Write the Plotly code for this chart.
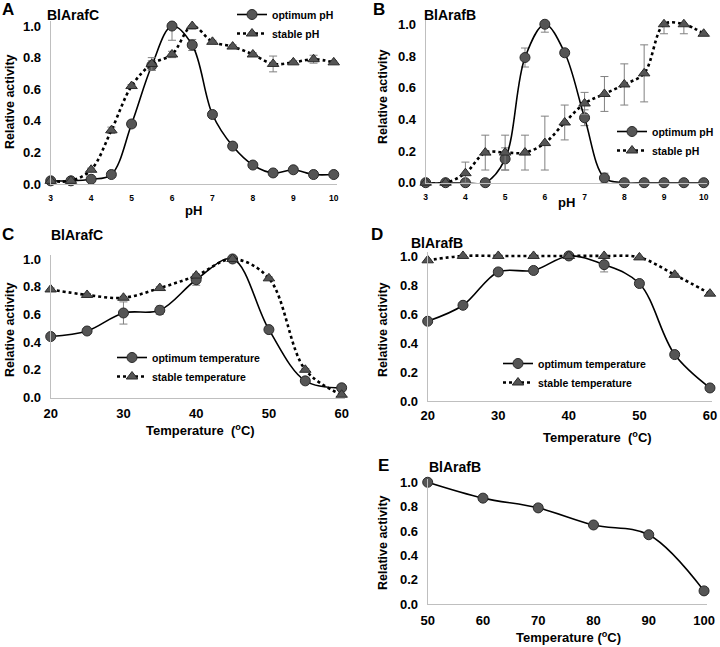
import plotly.graph_objects as go

# ---------------- data ----------------
ph = [3, 3.5, 4, 4.5, 5, 5.5, 6, 6.5, 7, 7.5, 8, 8.5, 9, 9.5, 10]
temp = [20, 25, 30, 35, 40, 45, 50, 55, 60]
temp_e = [50, 60, 70, 80, 90, 100]

a_opt = [0.02, 0.02, 0.03, 0.06, 0.38, 0.75, 1.00, 0.88, 0.44, 0.24, 0.12, 0.07, 0.09, 0.06, 0.06]
a_opt_err = [0.0, 0.0, 0.0, 0.0, 0.02, 0.03, 0.09, 0.035, 0.01, 0.0, 0.0, 0.0, 0.0, 0.0, 0.0]
a_stb = [0.02, 0.02, 0.09, 0.34, 0.62, 0.76, 0.82, 1.00, 0.90, 0.87, 0.82, 0.76, 0.77, 0.79, 0.77]
a_stb_err = [0.0, 0.0, 0.01, 0.02, 0.01, 0.04, 0.02, 0.02, 0.01, 0.01, 0.01, 0.05, 0.01, 0.025, 0.01]

b_opt = [0.0, 0.0, 0.0, 0.0, 0.15, 0.79, 1.00, 0.82, 0.41, 0.03, 0.0, 0.0, 0.0, 0.0, 0.0]
b_opt_err = [0.0, 0.0, 0.0, 0.0, 0.07, 0.06, 0.05, 0.02, 0.05, 0.03, 0.0, 0.0, 0.0, 0.0, 0.0]
b_stb = [0.0, 0.0, 0.06, 0.19, 0.19, 0.19, 0.25, 0.38, 0.50, 0.56, 0.62, 0.69, 1.00, 1.00, 0.94]
b_stb_err = [0.0, 0.0, 0.07, 0.11, 0.11, 0.11, 0.17, 0.11, 0.07, 0.11, 0.13, 0.18, 0.06, 0.06, 0.0]

c_opt = [0.44, 0.48, 0.61, 0.63, 0.85, 1.00, 0.49, 0.12, 0.07]
c_opt_err = [0.0, 0.02, 0.08, 0.03, 0.04, 0.0, 0.0, 0.0, 0.02]
c_stb = [0.78, 0.74, 0.72, 0.79, 0.88, 1.00, 0.86, 0.20, 0.02]
c_stb_err = [0.01, 0.01, 0.01, 0.01, 0.01, 0.01, 0.01, 0.01, 0.01]

d_opt = [0.55, 0.66, 0.89, 0.90, 1.00, 0.94, 0.81, 0.32, 0.09]
d_opt_err = [0.0, 0.0, 0.0, 0.0, 0.0, 0.05, 0.0, 0.02, 0.0]
d_stb = [0.97, 1.00, 1.00, 1.00, 1.00, 1.00, 0.99, 0.87, 0.74]
d_stb_err = [0.0, 0.0, 0.0, 0.0, 0.0, 0.0, 0.0, 0.01, 0.0]

e_opt = [1.00, 0.87, 0.79, 0.65, 0.57, 0.11]

ytick_vals = [0.0, 0.2, 0.4, 0.6, 0.8, 1.0]

# ---------------- style ----------------
FONT = "Arial, Liberation Sans, sans-serif"
W, H = 720, 647
MK_FILL = "#555555"
MK_LINE = "#2a2a2a"
ERR_C = "#808080"


def px(x0, x1):
    return [x0 / W, x1 / W]


def py(ytop, ybot):
    return [1 - ybot / H, 1 - ytop / H]


fig = go.Figure()


def up_err(vals, errs):
    return [min(e, max(0.0, 1.0 - v)) for v, e in zip(vals, errs)]


def dn_err(vals, errs):
    return [min(e, v) for v, e in zip(vals, errs)]


def add_series(x, y, err, ax, name, kind, legend, showlegend=True):
    if kind == "opt":
        line = dict(shape="spline", color="black", width=1.6)
        marker = dict(symbol="circle", size=10, color=MK_FILL, line=dict(color=MK_LINE, width=1))
    else:
        line = dict(shape="spline", color="black", width=2.6, dash="dot")
        marker = dict(symbol="triangle-up", size=10, color=MK_FILL, line=dict(color=MK_LINE, width=1))
    kw = {}
    if err is not None:
        kw["error_y"] = dict(type="data", symmetric=False, array=up_err(y, err),
                             arrayminus=dn_err(y, err), color=ERR_C, thickness=1, width=4)
    tr = dict(x=x, y=y, mode="lines+markers", name=name, line=line,
              marker=marker, xaxis="x" + ax, yaxis="y" + ax,
              showlegend=showlegend, cliponaxis=False, **kw)
    if legend:
        tr["legend"] = legend
    fig.add_trace(go.Scatter(**tr))


add_series(ph, a_opt, a_opt_err, "", "optimum pH", "opt", "legend")
add_series(ph, a_stb, a_stb_err, "", "stable pH", "stb", "legend")
add_series(ph, b_opt, b_opt_err, "2", "optimum pH", "opt", "legend2")
add_series(ph, b_stb, b_stb_err, "2", "stable pH", "stb", "legend2")
add_series(temp, c_opt, c_opt_err, "3", "optimum temperature", "opt", "legend3")
add_series(temp, c_stb, c_stb_err, "3", "stable temperature", "stb", "legend3")
add_series(temp, d_opt, d_opt_err, "4", "optimum temperature", "opt", "legend4")
add_series(temp, d_stb, d_stb_err, "4", "stable temperature", "stb", "legend4")
add_series(temp_e, e_opt, None, "5", "optimum temperature", "opt", None, showlegend=False)

AX_LINE = "#bfbfbf"


def xaxis(dom, rng, dtick, tsize, anchor, standoff):
    return dict(domain=dom, range=rng, dtick=dtick, tick0=rng[0], anchor=anchor,
                showline=True, linecolor=AX_LINE, linewidth=1, showgrid=False,
                zeroline=False, ticks="", ticklabelstandoff=standoff, automargin=False,
                tickfont=dict(family=FONT, size=tsize, color="black", weight="bold"))


def yaxis(dom, anchor):
    return dict(domain=dom, range=[0, 1.03], tickvals=ytick_vals, tickformat=".1f",
                anchor=anchor, showline=True, linecolor=AX_LINE, linewidth=1,
                showgrid=False, zeroline=False, ticks="", ticklabelstandoff=6,
                automargin=False,
                tickfont=dict(family=FONT, size=13, color="black", weight="bold"))


fig.update_layout(
    width=W, height=H, margin=dict(l=0, r=0, t=0, b=0, autoexpand=False),
    paper_bgcolor="white", plot_bgcolor="white",
    xaxis=xaxis(px(50.7, 337), [3, 10.08], 1, 8.5, "y", 6),
    yaxis=yaxis(py(21.3, 184), "x"),
    xaxis2=xaxis(px(425.7, 706.9), [3, 10.08], 1, 8.5, "y2", 6),
    yaxis2=yaxis(py(19.5, 182.7), "x2"),
    xaxis3=xaxis(px(50.7, 345.3), [20, 60.5], 10, 13, "y3", 4),
    yaxis3=yaxis(py(254.8, 397.5), "x3"),
    xaxis4=xaxis(px(427.7, 712.1), [20, 60.3], 10, 13, "y4", 2),
    yaxis4=yaxis(py(251.6, 401), "x4"),
    xaxis5=xaxis(px(427.7, 706.8), [50, 100.5], 10, 13, "y5", 4),
    yaxis5=yaxis(py(478.6, 604.3), "x5"),
    showlegend=True,
)

leg_font = dict(family=FONT, size=10.5, color="black", weight="bold")


def legend(xpx, ypx):
    return dict(x=xpx / W, y=1 - ypx / H, xanchor="left", yanchor="top",
                bgcolor="rgba(0,0,0,0)", font=leg_font, tracegroupgap=0,
                itemsizing="trace", borderwidth=0)


fig.update_layout(
    legend=legend(232, 0),
    legend2=legend(612, 117),
    legend3=legend(112, 343),
    legend4=legend(498, 349),
)

ann = []


def text(x, y, s, size, angle=0, xanchor="center"):
    ann.append(dict(x=x / W, y=1 - y / H, xref="paper", yref="paper", text=s,
                    showarrow=False, textangle=angle, xanchor=xanchor, yanchor="middle",
                    font=dict(family=FONT, size=size, color="black", weight="bold")))


# panel letters
text(0, 9, "A", 17, xanchor="left")
text(371, 9, "B", 17, xanchor="left")
text(0, 235, "C", 17, xanchor="left")
text(369, 235, "D", 17, xanchor="left")
text(376, 465, "E", 17, xanchor="left")
# panel titles
text(45, 15, "BlArafC", 14, xanchor="left")
text(422, 15, "BlArafB", 14, xanchor="left")
text(49, 235, "BlArafC", 14, xanchor="left")
text(409, 243, "BlArafB", 14, xanchor="left")
text(427, 467, "BlArafB", 14, xanchor="left")
# axis titles
text(193, 210, "pH", 13)
text(566, 202, "pH", 13)
text(200, 430, "Temperature  (<sup>o</sup>C)", 13)
text(597, 437, "Temperature  (<sup>o</sup>C)", 13)
text(568, 637, "Temperature (<sup>o</sup>C)", 13)
text(10, 102, "Relative activity", 12.5, angle=-90)
text(383, 97, "Relative activity", 12.5, angle=-90)
text(10, 330, "Relative activity", 12.5, angle=-90)
text(383, 330, "Relative activity", 12.5, angle=-90)
text(383, 543, "Relative activity", 12.5, angle=-90)

fig.update_layout(annotations=ann)
fig.write_html("out.html", config={"displayModeBar": False},
               post_script="document.body.style.margin='0';")
